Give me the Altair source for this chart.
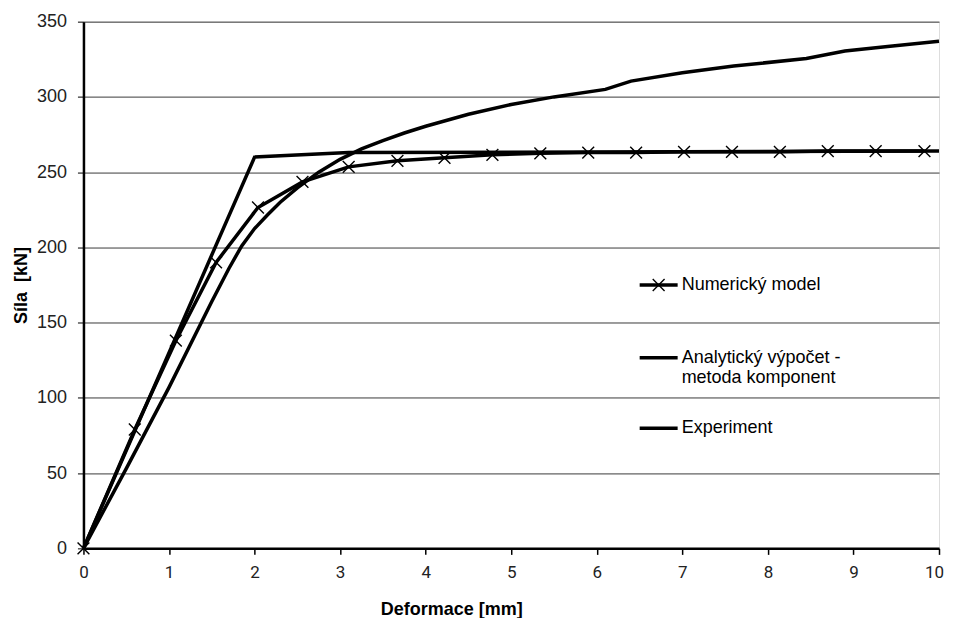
import altair as alt
import pandas as pd

# ---- data ----
num_x = [0, 0.60, 1.08, 1.55, 2.04, 2.56, 3.10, 3.67, 4.22, 4.78, 5.34, 5.90,
         6.46, 7.02, 7.58, 8.14, 8.70, 9.26, 9.83]
num_y = [0, 79, 138, 190, 226.5, 243.5, 253.5, 257.5, 259.5, 261.5, 262.5, 263,
         263, 263.5, 263.5, 263.5, 264, 264, 264]

ana_x = [0, 2.0, 3.1, 10]
ana_y = [0, 260, 263, 264]

exp_x = [0, 0.5, 1.0, 1.5, 1.7, 1.85, 2.0, 2.15, 2.3, 2.5, 2.75, 3.0, 3.25, 3.5,
         3.75, 4.0, 4.5, 5.0, 5.5, 6.1, 6.4, 7.0, 7.6, 8.45, 8.9, 9.4, 10]
exp_y = [0, 53, 107, 164, 186, 201, 212.5, 221.5, 230, 239.5, 250, 258.5, 265.5, 271,
         276, 280.5, 288.5, 295, 300, 305, 310.5, 316, 320.5, 325.5, 330.5, 333.5, 337]

series_names = ["Numerický model", "Analytický výpočet - metoda komponent", "Experiment"]
y_ticks = [0, 50, 100, 150, 200, 250, 300, 350]
x_ticks = list(range(0, 11))

x_title = "Deformace [mm]"
y_title = "Síla\u00a0 [kN]"

# ---- tables ----
rows = []
for name, xs, ys in zip(series_names, [num_x, ana_x, exp_x], [num_y, ana_y, exp_y]):
    for i, (a, b) in enumerate(zip(xs, ys)):
        rows.append({"series": name, "x": a, "y": b, "order": i})
df = pd.DataFrame(rows)
df_num = df[df["series"] == series_names[0]]

ARIAL = "Arial, Liberation Sans, sans-serif"
XPATH = "M-1,-1L1,1M-1,1L1,-1"

x_enc = alt.X("x:Q", scale=alt.Scale(domain=[0, 10], nice=False),
              axis=alt.Axis(values=x_ticks, title=x_title, format="d",
                            grid=False, domainColor="black", domainWidth=2.5,
                            tickColor="black", tickSize=6, tickWidth=1.5,
                            labelFont="Roboto", labelFontSize=17, labelColor="#222",
                            labelPadding=10, labelFlush=False,
                            labelOffset={"condition": {"test": "datum.value == 10", "value": -5},
                                         "value": 0},
                            titleFont=ARIAL, titleFontSize=18, titleFontWeight="bold",
                            titleX=368, titleY=61, titleAlign="center",
                            titleBaseline="middle", titleColor="black"))
y_enc = alt.Y("y:Q", scale=alt.Scale(domain=[0, 350], nice=False),
              axis=alt.Axis(values=y_ticks, title=y_title,
                            grid=True, gridColor="#3a3a3a", gridWidth=1,
                            domainColor="black", domainWidth=2.5,
                            tickColor="black", tickSize=6, tickWidth=1,
                            labelFont=ARIAL, labelFontSize=18, labelColor="#222",
                            labelPadding=11,
                            titleFont=ARIAL, titleFontSize=18, titleFontWeight="bold",
                            titleX=-62, titleY=263.5, titleAngle=270,
                            titleAlign="center", titleBaseline="middle",
                            titleColor="black"))

lines = alt.Chart(df).mark_line(strokeWidth=3.5, color="black", clip=False).encode(
    x=x_enc, y=y_enc, detail="series:N", order="order:Q")

markers = alt.Chart(df_num).mark_point(
    shape=XPATH, size=140, filled=False, color="black", strokeWidth=1.4, opacity=1
).encode(x="x:Q", y="y:Q")

# ---- manual legend (inside the plot area) ----
leg_x1, leg_x2, leg_tx = 556.5, 594.5, 598.5
leg = []
for yy in [263.5, 336.2, 406.8]:
    leg.append(alt.Chart().mark_rule(strokeWidth=3.5, color="black").encode(
        x=alt.value(leg_x1), x2=alt.value(leg_x2), y=alt.value(yy)))
leg.append(alt.Chart().mark_point(shape=XPATH, size=140, filled=False, color="black",
                                  strokeWidth=1.4, opacity=1).encode(
    x=alt.value(575.5), y=alt.value(263.5)))
label_lines = [("Numerický model", 263.5), ("Analytický výpočet -", 336.2),
               ("metoda komponent", 356.8), ("Experiment", 406.8)]
for txt, yy in label_lines:
    leg.append(alt.Chart().mark_text(align="left", baseline="middle", font=ARIAL,
                                     fontSize=18, color="black").encode(
        x=alt.value(leg_tx), y=alt.value(yy), text=alt.value(txt)))

chart = alt.layer(lines, markers, *leg).properties(
    width=856, height=527,
    padding={"left": 75.5, "top": 13.5, "right": 6, "bottom": 69},
    autosize=alt.AutoSizeParams(type="none"),
).configure_view(stroke=None).configure(background="white")

chart.save("out.html", embed_options={"renderer": "svg", "actions": False})
